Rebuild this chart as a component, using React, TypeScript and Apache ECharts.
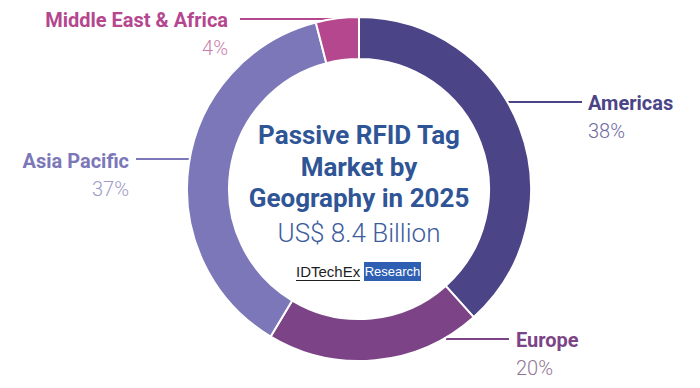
import React, { useEffect, useRef } from "react";
import * as echarts from "echarts";

const categories = ["Americas", "Europe", "Asia Pacific", "Middle East & Africa"];
const shares = [38, 20, 37, 4];
const sliceColors = ["#4b4486", "#7c4487", "#7b77b8", "#b5478f"];
const pctColors = ["#6f6b9e", "#8f7796", "#9e9bc9", "#c97fae"];

const titleLines = ["Passive RFID Tag", "Market by", "Geography in 2025"];
const subtitle = "US$ 8.4 Billion";

// label placement (layout only)
const labelPlacement = [
  { x: 588, y: 89, align: "left", line: [[505, 102], [545, 102], [582, 102]] },
  { x: 516, y: 326, align: "left", line: [[446, 339], [480, 339], [509, 339]] },
  { x: 129, y: 147, align: "right", line: [[190, 159], [160, 159], [136, 159]] },
  { x: 228, y: 6, align: "right", line: [[357, 19], [300, 19], [240, 19]] },
];

export default function App() {
  const ref = useRef<HTMLDivElement>(null);
  useEffect(() => {
    if (!ref.current) return;
    const chart = echarts.init(ref.current, undefined, { renderer: "svg" });
    const rich: any = {};
    categories.forEach((_, i) => {
      const al = labelPlacement[i].align;
      rich["n" + i] = {
        fontFamily: "Roboto",
        fontWeight: "bold",
        fontSize: 20,
        lineHeight: 28,
        color: sliceColors[i],
        align: al,
      };
      rich["p" + i] = {
        fontFamily: "Roboto",
        fontWeight: 300,
        fontSize: 20,
        lineHeight: 28,
        color: pctColors[i],
        align: al,
      };
    });
    const cx = 359;
    chart.setOption({
      animation: false,
      backgroundColor: "#ffffff",
      series: [
        {
          type: "pie",
          center: [cx, 189],
          radius: [130, 172],
          startAngle: 90,
          clockwise: true,
          itemStyle: { borderColor: "#ffffff", borderWidth: 2 },
          label: {
            show: true,
            position: "outside",
            formatter: (p: any) => `{n${p.dataIndex}|${p.name}}\n{p${p.dataIndex}|${p.value}%}`,
            rich,
          },
          labelLine: { show: true, lineStyle: { width: 2 } },
          labelLayout: (params: any) => {
            const lp = labelPlacement[params.dataIndex];
            return {
              x: lp.x,
              y: lp.y,
              align: lp.align,
              verticalAlign: "top",
              labelLinePoints: lp.line,
            };
          },
          emphasis: { disabled: true },
          data: categories.map((c, i) => ({
            name: c,
            value: shares[i],
            itemStyle: { color: sliceColors[i] },
            labelLine: { lineStyle: { color: sliceColors[i], width: 2 } },
          })),
        },
      ],
      graphic: [
        ...titleLines.map((t, i) => ({
          type: "text",
          x: cx,
          y: [135, 167, 198][i],
          style: {
            text: t,
            fontFamily: "Roboto",
            fontWeight: "bold",
            fontSize: 26,
            fill: "#2f5597",
            align: "center",
            verticalAlign: "middle",
          },
        })),
        {
          type: "text",
          x: cx,
          y: 233,
          style: {
            text: subtitle,
            fontFamily: "Roboto",
            fontWeight: 300,
            fontSize: 26,
            fill: "#3c5c9c",
            align: "center",
            verticalAlign: "middle",
          },
        },
        {
          type: "text",
          x: 296,
          y: 271,
          style: {
            text: "IDTechEx",
            fontFamily: "Liberation Sans",
            fontSize: 15,
            fill: "#1e1e1e",
            align: "left",
            verticalAlign: "middle",
          },
        },
        {
          type: "line",
          shape: { x1: 296, y1: 280.5, x2: 360, y2: 280.5 },
          style: { stroke: "#1e1e1e", lineWidth: 1 },
        },
        {
          type: "rect",
          shape: { x: 364, y: 262, width: 57, height: 19 },
          style: { fill: "#2f5fb3" },
        },
        {
          type: "text",
          x: 392.5,
          y: 271.5,
          style: {
            text: "Research",
            fontFamily: "Liberation Sans",
            fontSize: 13,
            fill: "#ffffff",
            align: "center",
            verticalAlign: "middle",
          },
        },
      ],
    });
    return () => chart.dispose();
  }, []);
  return (
    <div
      ref={ref}
      style={{ position: "absolute", left: 0, top: 0, width: 700, height: 388 }}
    />
  );
}
